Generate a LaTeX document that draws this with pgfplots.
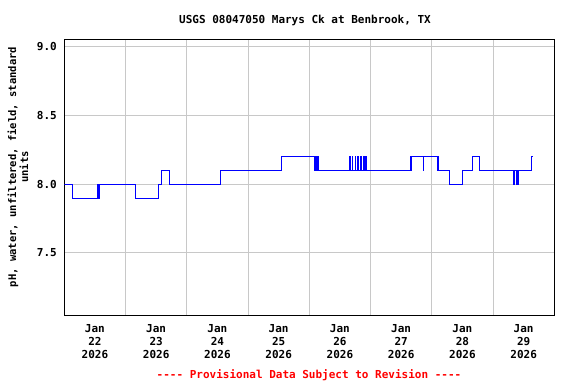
\documentclass[border=0pt]{standalone}
\usepackage{pgfplots}
\pgfplotsset{compat=1.18}
\usepackage{fontspec}
\setmainfont{DejaVu Sans Mono}
\definecolor{gridgray}{RGB}{200,200,200}
\pgfplotstableread{
d v
0.000 8.0
0.140 7.9
0.536 8.0
0.545 7.9
0.553 8.0
0.562 7.9
0.570 8.0
1.165 7.9
1.535 8.0
1.587 8.1
1.714 8.0
2.555 8.1
3.538 8.2
4.082 8.1
4.094 8.2
4.118 8.1
4.130 8.2
4.150 8.1
4.653 8.2
4.665 8.1
4.700 8.2
4.712 8.1
4.747 8.2
4.759 8.1
4.794 8.2
4.806 8.1
4.841 8.2
4.853 8.1
4.888 8.2
4.900 8.1
4.922 8.2
4.934 8.1
5.645 8.2
5.655 8.1
5.668 8.2
5.861 8.1
5.869 8.2
6.096 8.1
6.106 8.2
6.117 8.1
6.297 8.0
6.504 8.1
6.661 8.2
6.787 8.1
7.331 8.0
7.345 8.1
7.380 8.0
7.392 8.1
7.402 8.0
7.421 8.1
7.628 8.2
7.636 8.2
}\phdata
\begin{document}
\begin{tikzpicture}[x=1pt,y=1pt]
\path[use as bounding box] (0,0) rectangle (576,384);
\begin{axis}[
  at={(64.3pt,68.3pt)}, anchor=south west,
  scale only axis, width=490pt, height=276.4pt,
  xmin=0, xmax=8, ymin=7.043, ymax=9.056,
  xtick={0.5,1.5,2.5,3.5,4.5,5.5,6.5,7.5},
  xticklabels={Jan\\22\\2026,Jan\\23\\2026,Jan\\24\\2026,Jan\\25\\2026,Jan\\26\\2026,Jan\\27\\2026,Jan\\28\\2026,Jan\\29\\2026},
  minor xtick={1,2,3,4,5,6,7},
  xminorgrids=true, xmajorgrids=false,
  ytick={7.5,8,8.5,9},
  yticklabels={7.5,8.0,8.5,9.0},
  ymajorgrids=true,
  major tick length=0pt, minor tick length=0pt,
  grid style={color=gridgray, line width=1pt},
  minor grid style={color=gridgray, line width=1pt},
  axis line style={line width=1pt},
  tick label style={font=\bfseries\fontsize{11}{13}\selectfont},
  xticklabel style={align=center, yshift=-5pt},
  yticklabel style={xshift=-4pt},
]
\addplot[const plot, color=blue, line width=1pt] table[x=d, y=v] {\phdata};
\end{axis}
\node[font=\bfseries\fontsize{11}{13}\selectfont] at (305,364) {USGS 08047050 Marys Ck at Benbrook, TX};
\node[font=\bfseries\fontsize{10.5}{12}\selectfont, rotate=90, align=center] at (18,217) {pH, water, unfiltered, field, standard\\units};
\node[font=\bfseries\fontsize{11}{13}\selectfont, text=red] at (309,9) {-{}-{}-{}- Provisional Data Subject to Revision -{}-{}-{}-};
\end{tikzpicture}
\end{document}
